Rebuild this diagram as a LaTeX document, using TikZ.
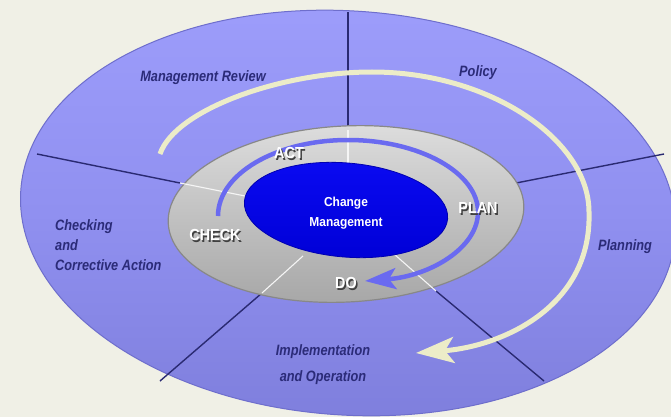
\documentclass[tikz,border=0pt]{standalone}
\usepackage{fontspec}
\newfontfamily\lblfont[FakeStretch=0.85]{Liberation Sans}
\newfontfamily\pdcafont[FakeStretch=0.9]{Liberation Sans}
\newfontfamily\corefont[FakeStretch=0.92]{Liberation Sans}
\usetikzlibrary{arrows.meta}
\definecolor{bgcream}{HTML}{F0F0E6}
\definecolor{ringtop}{HTML}{9D9DFB}
\definecolor{ringmid}{HTML}{9090F0}
\definecolor{ringbot}{HTML}{7E7EDC}
\definecolor{ringedge}{HTML}{6E6ECC}
\definecolor{divider}{HTML}{2A2A72}
\definecolor{graytop}{HTML}{DCDCDC}
\definecolor{graybot}{HTML}{A6A6A6}
\definecolor{grayedge}{HTML}{888888}
\definecolor{coretop}{HTML}{0A0AF2}
\definecolor{corebot}{HTML}{0000D6}
\definecolor{coreedge}{HTML}{0000B0}
\definecolor{cream}{HTML}{ECECC8}
\definecolor{pdcablue}{HTML}{6A6AF0}
\definecolor{navytext}{HTML}{2B2B78}
\tikzset{
  darkline/.style={draw=divider, line width=1.4pt},
  whiteline/.style={draw=white!92!gray, line width=1.1pt},
  outerlbl/.style={font=\lblfont\bfseries\itshape\fontsize{15}{20}\selectfont, text=navytext, inner sep=0pt},
  pdcalbl/.style={font=\pdcafont\bfseries\fontsize{16}{16}\selectfont, text=white, inner sep=0pt},
  pdcashadow/.style={pdcalbl, text=black!75},
  corelbl/.style={font=\corefont\bfseries\fontsize{13}{20}\selectfont, text=white, inner sep=0pt, align=center},
  creamarrow/.style={draw=cream, line width=5pt, -{Stealth[length=38pt, width=26pt, inset=9pt]}},
  bluearrow/.style={draw=pdcablue, line width=4.5pt, -{Stealth[length=31pt, width=21pt, inset=7pt]}}
}
\begin{document}
\begin{tikzpicture}[x=1pt,y=-1pt]
\useasboundingbox (0,0) rectangle (671,417);
\fill[bgcream] (0,0) rectangle (671,417);

% outer ring
\path[top color=ringtop, bottom color=ringbot, middle color=ringmid, draw=ringedge, line width=1pt,
      rotate around={-4:(348,213)}] (348,213) ellipse [x radius=328, y radius=202];

% divider coordinates
\coordinate (d1o) at (348,12);  \coordinate (d1g) at (348,130); \coordinate (d1b) at (348,166);
\coordinate (d2o) at (37,154);  \coordinate (d2g) at (180,183); \coordinate (d2b) at (250,197);
\coordinate (d3o) at (664,154); \coordinate (d3g) at (511,184);
\coordinate (d4o) at (160,381); \coordinate (d4g) at (262,293); \coordinate (d4b) at (303,256);
\coordinate (d5o) at (544,381); \coordinate (d5g) at (436,291); \coordinate (d5b) at (394,254);

\path[darkline] (d1o) -- (d1g);
\path[darkline] (d2o) -- (d2g);
\path[darkline] (d3o) -- (d3g);
\path[darkline] (d4o) -- (d4g);
\path[darkline] (d5o) -- (d5g);

% gray ring
\path[top color=graytop, bottom color=graybot, draw=grayedge, line width=1.2pt,
      rotate around={3:(346,214)}] (346,214) ellipse [x radius=178, y radius=88];

\path[whiteline] (d1g) -- (d1b);
\path[whiteline] (d2g) -- (d2b);
\path[whiteline] (d4g) -- (d4b);
\path[whiteline] (d5g) -- (d5b);

% blue core
\path[top color=coretop, bottom color=corebot, draw=coreedge, line width=0.8pt,
      rotate around={-5:(346,210)}] (346,210) ellipse [x radius=102, y radius=47];

% cream arrow
\coordinate (c0) at (160,154);
\coordinate (c1) at (372,72);
\coordinate (c2) at (589,212);
\coordinate (c3) at (416,353);
\path[creamarrow] (c0) .. controls (175,110) and (280,72) .. (c1)
   .. controls (490,72) and (589,140) .. (c2)
   .. controls (592,305) and (505,346) .. (c3);

% blue PDCA arrow
\coordinate (b0) at (218,216);
\coordinate (b1) at (348,140);
\coordinate (b2) at (478,212);
\coordinate (b3) at (365,281);
\path[bluearrow] (b0) .. controls (218,174) and (276,140) .. (b1)
   .. controls (420,140) and (478,173) .. (b2)
   .. controls (478,248) and (430,276) .. (b3);

% outer labels
\node[outerlbl] (mr) at (203,78) {Management Review};
\node[outerlbl] (po) at (478,73) {Policy};
\node[outerlbl] (pl) at (625,247) {Planning};
\node[outerlbl, align=left, anchor=west] (ch) at (55,245) {Checking\\and\\Corrective Action};
\node[outerlbl, align=center, font=\lblfont\bfseries\itshape\fontsize{15}{26}\selectfont] (im) at (323,365) {Implementation\\and Operation};

% PDCA labels
\node[pdcashadow] (acts) at (290.5,154.5) {ACT};
\node[pdcalbl] (act) at (289,153) {ACT};
\node[pdcashadow] (plans) at (479.5,209.5) {PLAN};
\node[pdcalbl] (plan) at (478,208) {PLAN};
\node[pdcashadow] (checks) at (216.5,236.5) {CHECK};
\node[pdcalbl] (check) at (215,235) {CHECK};
\node[pdcashadow] (dos) at (347.5,284.5) {DO};
\node[pdcalbl] (do) at (346,283) {DO};

% core label
\node[corelbl] (core) at (346,213) {Change\\Management};
\end{tikzpicture}
\end{document}
